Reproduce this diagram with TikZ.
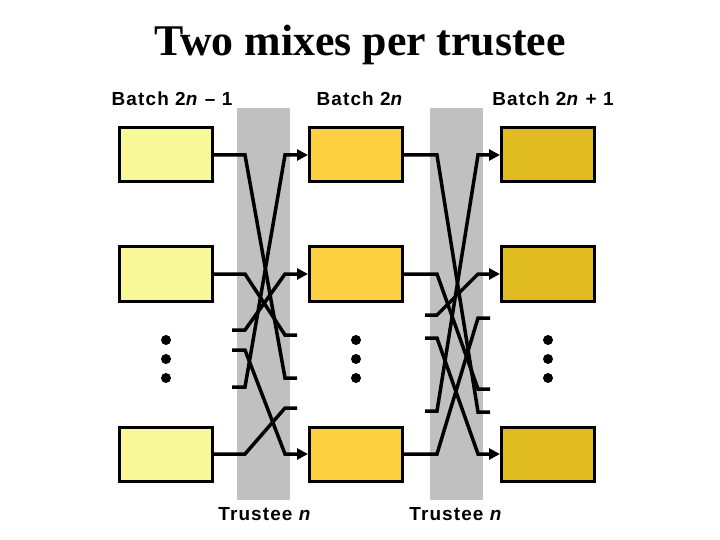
\documentclass[tikz,border=0pt]{standalone}
\usepackage{fontspec}
\setmainfont{Liberation Serif}
\newfontfamily\arial[LetterSpace=6]{Liberation Sans}
\usetikzlibrary{arrows.meta}
\definecolor{bA}{HTML}{F8F898}
\definecolor{bB}{HTML}{FCD040}
\definecolor{bC}{HTML}{E0BC20}
\definecolor{band}{HTML}{C0C0C0}
\begin{document}
\begin{tikzpicture}[x=1bp,y=-1bp,
 box/.style={draw,line width=3bp,minimum width=93bp,minimum height=54bp,inner sep=0},
 w/.style={line width=3.5bp},
 a/.style={w,-{Triangle[length=11bp,width=11bp]}},
 lbl/.style={font=\arial\bfseries\fontsize{19}{21}\selectfont},
 dot/.style={circle,fill,inner sep=0,minimum size=10bp}]
\useasboundingbox (0,0) rectangle (720,540);
\fill[band] (237,108) rectangle (290,500);
\fill[band] (430,108) rectangle (483,500);
\node at (360,45) {\bfseries\fontsize{44}{48}\selectfont Two mixes per trustee};
\node[lbl] at (172,99) {Batch 2\textit{n} – 1};
\node[lbl] at (360,99) {Batch 2\textit{n}};
\node[lbl] at (553,99) {Batch 2\textit{n} + 1};
\node[lbl] at (265,514) {Trustee \textit{n}};
\node[lbl] at (456,514) {Trustee \textit{n}};
\foreach \c/\x/\n in {bA/166/a,bB/356/b,bC/548/c}{
 \node[box,fill=\c] (\n1) at (\x,155) {};
 \node[box,fill=\c] (\n2) at (\x,274) {};
 \node[box,fill=\c] (\n3) at (\x,454) {};
 \node[dot] (\n d1) at (\x,340) {};
 \node[dot] (\n d2) at (\x,359) {};
 \node[dot] (\n d3) at (\x,378) {};
}
% left band
\coordinate (s1) at (232,330); \coordinate (s2) at (232,387); \coordinate (s3) at (232,350);
\coordinate (e1) at (297,378); \coordinate (e2) at (297,335); \coordinate (e3) at (297,408);
\draw[w] (a1.east) -- (245,155) -- (285,378) -- (e1);
\draw[w] (a2.east) -- (245,274) -- (285,335) -- (e2);
\draw[w] (a3.east) -- (245,454) -- (285,408) -- (e3);
\draw[a] (s1) -- (245,330) -- (285,274) -- (b2.west);
\draw[a] (s2) -- (245,387) -- (285,155) -- (b1.west);
\draw[a] (s3) -- (245,350) -- (285,454) -- (b3.west);
% right band
\coordinate (t1) at (425,315); \coordinate (t2) at (425,338); \coordinate (t3) at (425,411);
\coordinate (f1) at (490,412); \coordinate (f2) at (490,389); \coordinate (f3) at (490,318);
\draw[w] (b1.east) -- (437,155) -- (478,412) -- (f1);
\draw[w] (b2.east) -- (437,274) -- (478,389) -- (f2);
\draw[w] (b3.east) -- (437,454) -- (478,318) -- (f3);
\draw[a] (t1) -- (437,315) -- (478,274) -- (c2.west);
\draw[a] (t2) -- (437,338) -- (478,454) -- (c3.west);
\draw[a] (t3) -- (437,411) -- (478,155) -- (c1.west);
\end{tikzpicture}
\end{document}
